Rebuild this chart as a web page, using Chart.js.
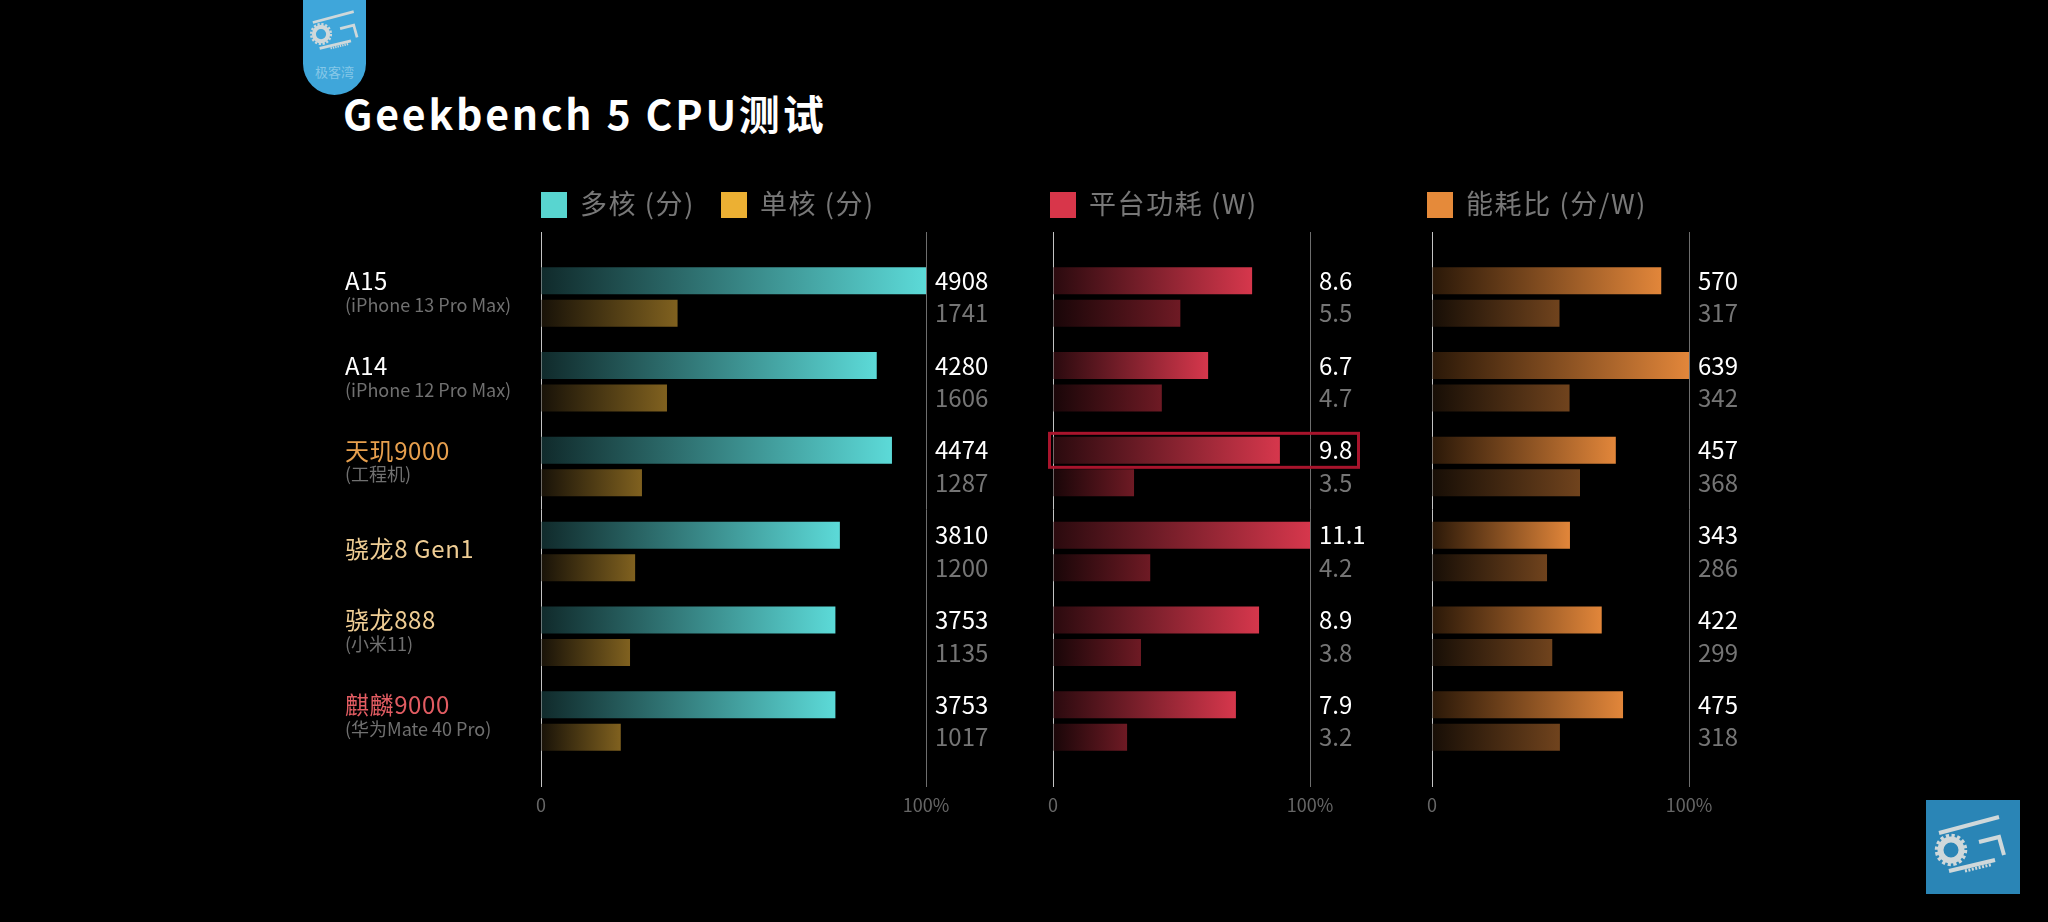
<!DOCTYPE html>
<html lang="zh">
<head>
<meta charset="utf-8">
<title>Geekbench 5 CPU测试</title>
<script src="https://cdn.jsdelivr.net/npm/chart.js@4/dist/chart.umd.min.js"></script>
<style>
  html, body { margin: 0; background: #000; width: 2048px; height: 922px; overflow: hidden; }
  body { font-family: "Noto Sans CJK SC", "Noto Sans", sans-serif; position: relative; }
  canvas { position: absolute; left: 0; top: 0; }
  #title { position: absolute; left: 343px; top: 83px; font-size: 41px; font-weight: 700; color: #fff; letter-spacing: 2.8px; line-height: 58px; white-space: nowrap; }
  .legend { position: absolute; top: 192px; height: 26px; display: flex; gap: 26px; white-space: nowrap; }
  .legend span { display: flex; align-items: center; color: #787878; font-size: 27px; letter-spacing: 1.6px; line-height: 26px; }
  .legend em { font-style: normal; position: relative; top: -2px; }
  .legend i { width: 26px; height: 26px; margin-right: 13px; }
  #tag { position: absolute; left: 303px; top: -40px; width: 63px; height: 135px; border-radius: 32px; background: #3fa6da; overflow: hidden; }
  #tag svg { position: absolute; left: 1px; top: 40px; width: 64px; height: 64px; }
  #tag b { position: absolute; left: 0; right: 0; top: 103px; text-align: center; font-size: 13px; font-weight: 400; color: #86c8e8; line-height: 18px; }
  #stamp { position: absolute; left: 1926px; top: 800px; width: 94px; height: 94px; background: #2a85b6; }
  #stamp svg { width: 94px; height: 94px; display: block; }
</style>
</head>
<body>
<svg width="0" height="0" style="position:absolute">
  <symbol id="logo" viewBox="0 0 94 94">
    <g fill="none" stroke="#cfd8da" stroke-width="4">
      <path d="M13 33 L73 17"/>
      <circle cx="25" cy="50" r="10.5" stroke-width="6"/>
      <circle cx="25" cy="50" r="14.5" stroke-width="3.5" stroke-dasharray="3.2 2.5"/>
      <path d="M53 42 L73 37 L78 55"/>
      <path d="M23 71 L69 60"/>
      <path d="M39 71 L66 64.5" stroke-width="3" stroke-dasharray="2 1.5"/>
    </g>
  </symbol>
</svg>

<div id="tag"><svg><use href="#logo"/></svg><b>极客湾</b></div>
<div id="stamp"><svg><use href="#logo"/></svg></div>
<div id="title">Geekbench 5 CPU测试</div>

<canvas id="chartScore" width="2048" height="922"></canvas>
<canvas id="chartPower" width="2048" height="922"></canvas>
<canvas id="chartRatio" width="2048" height="922"></canvas>

<script>
// ---- données ----
const chips = ["A15", "A14", "天玑9000", "骁龙8 Gen1", "骁龙888", "麒麟9000"];
const devices = ["(iPhone 13 Pro Max)", "(iPhone 12 Pro Max)", "(工程机)", "", "(小米11)", "(华为Mate 40 Pro)"];
const chipColors = ["#ffffff", "#ffffff", "#e8a04e", "#efcd94", "#efcd94", "#e25c62"];

const multiScore = [4908, 4280, 4474, 3810, 3753, 3753];
const singleScore = [1741, 1606, 1287, 1200, 1135, 1017];
const multiPower = [8.6, 6.7, 9.8, 11.1, 8.9, 7.9];
const singlePower = [5.5, 4.7, 3.5, 4.2, 3.8, 3.2];
const multiRatio = [570, 639, 457, 343, 422, 475];
const singleRatio = [317, 342, 368, 286, 299, 318];

const tickLabels = ["0", "100%"];
const legendScore = [["多核 (分)", "#58d5d0"], ["单核 (分)", "#ecb033"]];
const legendPower = [["平台功耗 (W)", "#d8364a"]];
const legendRatio = [["能耗比 (分/W)", "#e58a3a"]];

const FONT = '"Noto Sans CJK SC", "Noto Sans", sans-serif';
const TOP = 232, BOTTOM = 787;

Chart.defaults.animation = false;
Chart.defaults.font.family = FONT;

function addLegend(items, left) {
  const box = document.createElement("div");
  box.className = "legend";
  box.style.left = left + "px";
  items.forEach(([text, color]) => {
    const s = document.createElement("span");
    s.innerHTML = `<i style="background:${color}"></i><em>${text}</em>`;
    box.appendChild(s);
  });
  document.body.appendChild(box);
}

// barre en dégradé : sombre à gauche, couleur pleine au bout de la barre
function fade(startColor, endColor) {
  return (ctx) => {
    const xs = ctx.chart.scales.x;
    if (!xs || !ctx.raw) return endColor;
    const x1 = xs.getPixelForValue(ctx.raw.x);
    if (!Number.isFinite(x1) || !Number.isFinite(xs.left)) return endColor;
    const g = ctx.chart.ctx.createLinearGradient(xs.left, 0, x1, 0);
    g.addColorStop(0, startColor);
    g.addColorStop(1, endColor);
    return g;
  };
}

// valeurs à droite de l'axe 100%
const valueLabels = {
  id: "valueLabels",
  afterDatasetsDraw(chart) {
    const c = chart.ctx;
    c.save();
    c.font = `24px ${FONT}`;
    c.textAlign = "left";
    c.textBaseline = "middle";
    chart.data.datasets.forEach((ds, d) => {
      c.fillStyle = d === 0 ? "#ffffff" : "#757575";
      chart.getDatasetMeta(d).data.forEach((bar, i) => {
        c.fillText(String(ds.data[i].x), chart.chartArea.right + 9, bar.y);
      });
    });
    c.restore();
  }
};

// noms des puces à gauche du premier panneau
const rowLabels = {
  id: "rowLabels",
  afterDraw(chart) {
    const c = chart.ctx, ys = chart.scales.y;
    c.save();
    c.textAlign = "left";
    c.textBaseline = "middle";
    chips.forEach((name, i) => {
      const y = ys.getPixelForValue(i);
      c.font = `24px ${FONT}`;
      c.letterSpacing = "0.6px";
      c.fillStyle = chipColors[i];
      c.fillText(name, 345, devices[i] ? y - 16 : y - 3);
      if (devices[i]) {
        c.font = `18px ${FONT}`;
        c.letterSpacing = "0px";
        c.fillStyle = "#707070";
        c.fillText(devices[i], 345, y + 8);
      }
    });
    c.restore();
  }
};

// cadre rouge autour de la barre 9.8
const highlight = {
  id: "highlight",
  afterDraw(chart) {
    const bar = chart.getDatasetMeta(0).data[2];
    const a = chart.chartArea;
    const c = chart.ctx;
    c.save();
    c.strokeStyle = "#a8142c";
    c.lineWidth = 3;
    c.strokeRect(a.left - 3.5, bar.y - 17, a.right - a.left + 52, 34);
    c.restore();
  }
};

function makePanel(id, left, right, multi, single, colors, plugins) {
  const max = Math.max(...multi);
  return new Chart(document.getElementById(id), {
    type: "bar",
    data: {
      datasets: [
        { data: multi.map((v, i) => ({ x: v, y: i })), backgroundColor: fade(colors[0], colors[1]) },
        { data: single.map((v, i) => ({ x: v, y: i })), backgroundColor: fade(colors[2], colors[3]) }
      ]
    },
    options: {
      indexAxis: "y",
      responsive: false,
      layout: { padding: { left, right: 2048 - right, top: TOP, bottom: 922 - BOTTOM - 40 } },
      categoryPercentage: 0.767,
      barPercentage: 0.83,
      plugins: { legend: { display: false }, tooltip: { enabled: false } },
      scales: {
        x: {
          type: "linear",
          min: 0,
          max,
          afterBuildTicks: (s) => { s.ticks = [{ value: 0 }, { value: max }]; },
          afterFit: (s) => { s.height = 40; },
          border: { display: false },
          grid: {
            drawTicks: false,
            color: (ctx) => (ctx.index === 0 ? "#c4c4c4" : "#6e6e6e"),
            lineWidth: 1
          },
          ticks: {
            callback: (v, i) => tickLabels[i],
            color: "#666666",
            font: { size: 18 },
            padding: 7,
            maxRotation: 0,
            autoSkip: false
          }
        },
        y: {
          type: "linear",
          reverse: true,
          offset: false,
          min: -0.766,
          max: 5.778,
          display: false,
          afterBuildTicks: (s) => { s.ticks = chips.map((_, i) => ({ value: i })); }
        }
      }
    },
    plugins: [valueLabels, ...plugins]
  });
}

addLegend(legendScore, 541);
addLegend(legendPower, 1050);
addLegend(legendRatio, 1427);

makePanel("chartScore", 541, 926, multiScore, singleScore,
  ["#102a2b", "#5cdad8", "#181208", "#80611f"], [rowLabels]);
makePanel("chartPower", 1053, 1310, multiPower, singlePower,
  ["#2a0a0e", "#d6374c", "#190608", "#6e1a24"], [highlight]);
makePanel("chartRatio", 1432, 1689, multiRatio, singleRatio,
  ["#2a1808", "#e2863a", "#170e06", "#70431d"], []);
</script>
</body>
</html>
